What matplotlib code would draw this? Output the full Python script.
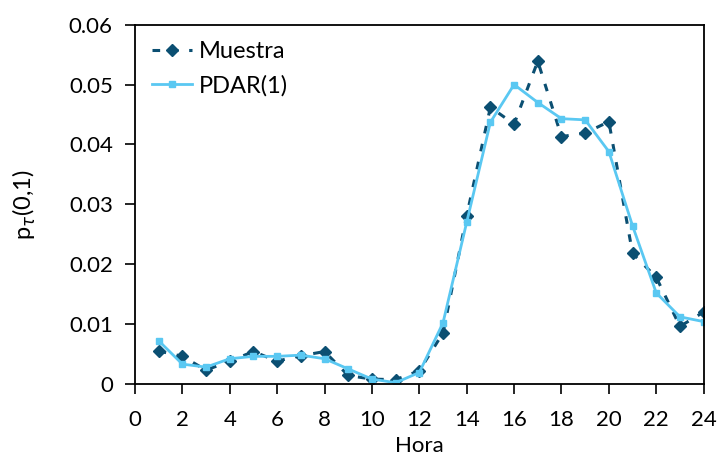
import numpy as np
import matplotlib
matplotlib.use('Agg')
import matplotlib.pyplot as plt

# datos
hora = np.arange(1, 25)
muestra = [0.0055, 0.0046, 0.0023, 0.0038, 0.0054, 0.0038, 0.0047, 0.0054,
           0.0014, 0.0008, 0.0007, 0.0022, 0.0085, 0.0281, 0.0462, 0.0434,
           0.0539, 0.0413, 0.0419, 0.0438, 0.0218, 0.0178, 0.0096, 0.0120]
pdar = [0.0072, 0.0033, 0.0028, 0.0042, 0.0046, 0.0046, 0.0048, 0.0042,
        0.0025, 0.0008, 0.0002, 0.0019, 0.0102, 0.0270, 0.0437, 0.0500,
        0.0470, 0.0443, 0.0441, 0.0388, 0.0264, 0.0152, 0.0112, 0.0104]
xticks = np.arange(0, 25, 2)
yticks = [0, 0.01, 0.02, 0.03, 0.04, 0.05, 0.06]
ytick_labels = ['0', '0.01', '0.02', '0.03', '0.04', '0.05', '0.06']

plt.rcParams['font.family'] = ['Lato', 'DejaVu Sans']

fig = plt.figure(figsize=(7.18, 4.57), dpi=100)
ax = fig.add_axes([0.188, 0.160, 0.792, 0.786])

ax.plot(hora, muestra, color='#0b4f72', linestyle=(0, (2.5, 3.5)), linewidth=2.2,
        marker='D', markersize=6.5, label='Muestra')
ax.plot(hora, pdar, color='#5ac8f2', linestyle='-', linewidth=2,
        marker='s', markersize=5, label='PDAR(1)')

ax.set_xlim(0, 24)
ax.set_ylim(0, 0.06)
ax.set_xticks(xticks)
ax.set_yticks(yticks)
ax.set_yticklabels(ytick_labels)
ax.tick_params(direction='out', length=7, width=1.2, labelsize=16)
ax.tick_params(axis='x', pad=12)
ax.tick_params(axis='y', pad=9)
for s in ax.spines.values():
    s.set_linewidth(1.3)

ax.set_xlabel('Hora', fontsize=16, labelpad=4)
ax.set_ylabel(r'p$_\tau$(0,1)', fontsize=17, labelpad=22)

ax.legend(loc='upper left', frameon=False, fontsize=17, handlelength=1.7,
          borderaxespad=0.3, handletextpad=0.3, labelspacing=0.55)

plt.savefig('out.png', dpi=100)
